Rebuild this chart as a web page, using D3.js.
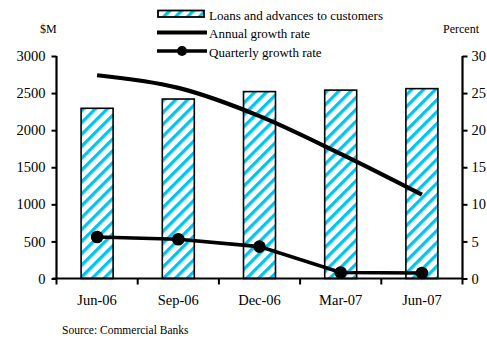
<!DOCTYPE html>
<html>
<head>
<meta charset="utf-8">
<script src="https://cdn.jsdelivr.net/npm/d3@7"></script>
<style>
  body { margin: 0; background: #fff; }
</style>
</head>
<body>
<svg id="chart" width="487" height="345"></svg>
<script>
// data
const quarters = ['Jun-06', 'Sep-06', 'Dec-06', 'Mar-07', 'Jun-07'];
const loans = [2295, 2420, 2520, 2540, 2560];          // $M, left axis
const annualGrowth = [27.4, 25.7, 21.9, 16.8, 11.3];   // percent, right axis
const quarterlyGrowth = [5.6, 5.3, 4.3, 0.8, 0.75];    // percent, right axis
const leftTicks = [0, 500, 1000, 1500, 2000, 2500, 3000];
const rightTicks = [0, 5, 10, 15, 20, 25, 30];

const serif = "'Liberation Serif', serif";
const svg = d3.select('#chart');
const plotLeft = 56.5, plotRight = 462.5, plotTop = 56, plotBottom = 278.5;
const cyan = '#00c4f2';

// hatch pattern for the bars
const defs = svg.append('defs');
const pat = defs.append('pattern')
  .attr('id', 'hatch')
  .attr('patternUnits', 'userSpaceOnUse')
  .attr('width', 8.4).attr('height', 8.4)
  .attr('patternTransform', 'rotate(45)');
pat.append('rect').attr('width', 8.4).attr('height', 8.4).attr('fill', '#fff');
pat.append('rect').attr('x', 0).attr('width', 3.3).attr('height', 8.4).attr('fill', cyan);

const x = d3.scaleBand().domain(quarters).range([plotLeft, plotRight]).paddingInner(0).paddingOuter(0);
const yL = d3.scaleLinear().domain([0, 3000]).range([plotBottom, plotTop]);
const yR = d3.scaleLinear().domain([0, 30]).range([plotBottom, plotTop]);
const barW = 32;

// bars
svg.selectAll('rect.bar')
  .data(loans)
  .enter().append('rect')
  .attr('class', 'bar')
  .attr('x', (d, i) => x(quarters[i]) + x.bandwidth() / 2 - barW / 2)
  .attr('y', d => yL(d))
  .attr('width', barW)
  .attr('height', d => plotBottom - yL(d))
  .attr('fill', 'url(#hatch)')
  .attr('stroke', '#000')
  .attr('stroke-width', 1.6);

// axes
const leftAxis = svg.append('g')
  .attr('transform', `translate(${plotLeft},0)`)
  .call(d3.axisLeft(yL).tickValues(leftTicks).tickFormat(d3.format('d')).tickSize(5).tickPadding(6));
const rightAxis = svg.append('g')
  .attr('transform', `translate(${plotRight},0)`)
  .call(d3.axisRight(yR).tickValues(rightTicks).tickFormat(d3.format('d')).tickSize(5).tickPadding(4));
const xAxis = svg.append('g')
  .attr('transform', `translate(0,${plotBottom})`)
  .call(d3.axisBottom(x).tickSize(6).tickPadding(10));

// band boundary ticks instead of centered ones
xAxis.selectAll('.tick line').remove();
const edges = quarters.map(q => x(q)).concat([plotRight]);
xAxis.selectAll('line.edge')
  .data(edges)
  .enter().append('line')
  .attr('x1', d => d).attr('x2', d => d)
  .attr('y1', 0).attr('y2', 6)
  .attr('stroke', '#000').attr('stroke-width', 2);

[leftAxis, rightAxis, xAxis].forEach(g => {
  g.attr('font-family', null).attr('font-size', 14.5);
  g.select('.domain').attr('stroke', '#000').attr('stroke-width', 2.2);
  g.selectAll('.tick line').attr('stroke', '#000').attr('stroke-width', 2);
  g.selectAll('text').attr('fill', '#000');
});
leftAxis.select('.domain').attr('d', `M0,${plotTop}V${plotBottom}`);
rightAxis.select('.domain').attr('d', `M0,${plotTop}V${plotBottom}`);
xAxis.select('.domain').attr('d', `M${plotLeft - 4},0H${plotRight}`);

// lines
const cx = (d, i) => x(quarters[i]) + x.bandwidth() / 2;
const annualLine = d3.line().x(cx).y(d => yR(d)).curve(d3.curveMonotoneX);
svg.append('path')
  .datum(annualGrowth)
  .attr('d', annualLine)
  .attr('fill', 'none').attr('stroke', '#000').attr('stroke-width', 4.2);

const quarterLine = d3.line().x(cx).y(d => yR(d));
svg.append('path')
  .datum(quarterlyGrowth)
  .attr('d', quarterLine)
  .attr('fill', 'none').attr('stroke', '#000').attr('stroke-width', 3.6);
svg.selectAll('circle.q')
  .data(quarterlyGrowth)
  .enter().append('circle')
  .attr('class', 'q')
  .attr('cx', cx).attr('cy', d => yR(d))
  .attr('r', 6.3).attr('fill', '#000');

// axis titles
svg.append('text').attr('x', 40).attr('y', 33).text('$M')
  .attr('font-size', 12);
svg.append('text').attr('x', 443).attr('y', 33).text('Percent')
  .attr('font-size', 12);

// legend
const lg = svg.append('g');
lg.append('rect').attr('x', 158).attr('y', 10.5).attr('width', 46).attr('height', 6.5)
  .attr('fill', 'url(#hatch)').attr('stroke', '#000').attr('stroke-width', 1.8);
lg.append('line').attr('x1', 157).attr('x2', 207).attr('y1', 32.5).attr('y2', 32.5)
  .attr('stroke', '#000').attr('stroke-width', 4.2);
lg.append('line').attr('x1', 157).attr('x2', 207).attr('y1', 51).attr('y2', 51)
  .attr('stroke', '#000').attr('stroke-width', 3.6);
lg.append('circle').attr('cx', 182).attr('cy', 51).attr('r', 5).attr('fill', '#000');
const legendText = ['Loans and advances to customers', 'Annual growth rate', 'Quarterly growth rate'];
lg.selectAll('text')
  .data(legendText)
  .enter().append('text')
  .attr('x', 209).attr('y', (d, i) => 19.5 + i * 18.5)
  .text(d => d)
  .attr('font-size', 13);

// source note
svg.append('text').attr('x', 62).attr('y', 334).text('Source:  Commercial Banks')
  .attr('font-size', 11.5);

// serif everywhere, as in the reference
svg.selectAll('text').style('font-family', serif);
</script>
</body>
</html>
